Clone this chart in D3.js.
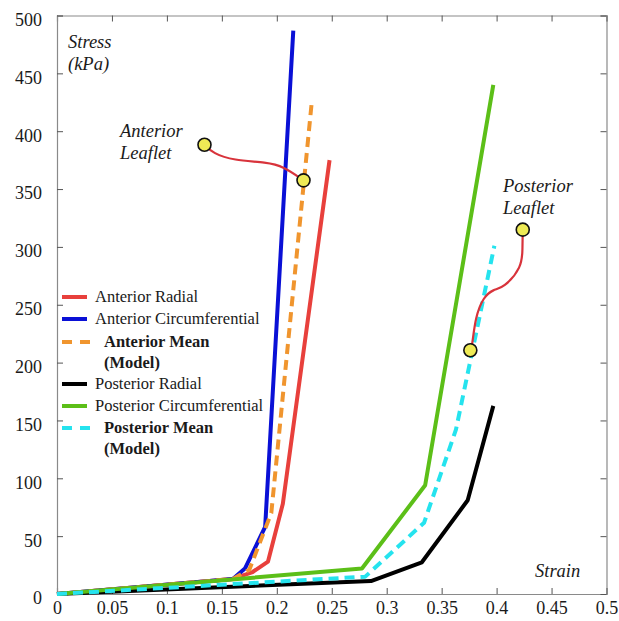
<!DOCTYPE html>
<html>
<head>
<meta charset="utf-8">
<script src="https://cdn.jsdelivr.net/npm/d3@7"></script>
<style>
  body { margin: 0; background: #fff; }
  svg text { font-family: "Liberation Serif", serif; fill: #1a1a1a; }
</style>
</head>
<body>
<div id="chart"></div>
<script>
// data: [strain, stress kPa]
var anteriorRadial = [[0, 0], [0.16, 13], [0.178, 19], [0.192, 28], [0.2055, 78], [0.248, 375]];
var anteriorCirc = [[0, 0], [0.16, 13], [0.171, 22], [0.1894, 58], [0.215, 487]];
var anteriorMean = [[0, 0], [0.16, 13], [0.175, 21], [0.195, 70], [0.232, 427]];
var posteriorRadial = [[0, 0], [0.2857, 11.2], [0.332, 27.4], [0.3737, 81], [0.397, 162.6]];
var posteriorCirc = [[0, 0], [0.2775, 22], [0.335, 94], [0.397, 440]];
var posteriorMean = [[0, 0], [0.2805, 15], [0.334, 61.6], [0.363, 142], [0.398, 301]];

// annotation connectors and their end points
var anteriorNote = [[0.1342, 388.3], [0.1421, 380.8], [0.1603, 374.8], [0.1913, 373.1], [0.2058, 369.6], [0.2243, 357.5]];
var posteriorNote = [[0.4238, 314.9], [0.4235, 298], [0.4232, 282.6], [0.4062, 264.2], [0.3971, 263.4], [0.388, 256.7], [0.3807, 239.5], [0.3777, 213.6], [0.3761, 210.7]];

var xTicks = [0, 0.05, 0.1, 0.15, 0.2, 0.25, 0.3, 0.35, 0.4, 0.45, 0.5];
var yTicks = [0, 50, 100, 150, 200, 250, 300, 350, 400, 450, 500];

var series = [
    { name: "Anterior Radial", data: anteriorRadial, color: "#e8403c", dash: null, bold: false },
    { name: "Anterior Circumferential", data: anteriorCirc, color: "#0a10d6", dash: null, bold: false },
    { name: "Anterior Mean|(Model)", data: anteriorMean, color: "#f0952e", dash: "10,6", bold: true },
    { name: "Posterior Radial", data: posteriorRadial, color: "#000000", dash: null, bold: false },
    { name: "Posterior Circumferential", data: posteriorCirc, color: "#5cbf18", dash: null, bold: false },
    { name: "Posterior Mean|(Model)", data: posteriorMean, color: "#25e3ee", dash: "10,6", bold: true }
];

var svgWidth = 619;
var svgHeight = 621;
var margin = { top: 15.5, right: 12.5, bottom: 27, left: 57 };
var width = svgWidth - margin.left - margin.right;
var height = svgHeight - margin.top - margin.bottom;

var svg = d3.select("#chart")
    .append("svg")
    .attr("width", svgWidth)
    .attr("height", svgHeight);

var chartGroup = svg.append("g")
    .attr("transform", `translate(${margin.left}, ${margin.top})`);

var x = d3.scaleLinear().domain([0, 0.5]).range([0, width]);
var y = d3.scaleLinear().domain([0, 500]).range([height, 0]);

// axes, ticks pointing inwards on all four sides
var fmt = d => d3.format("")(+d.toFixed(2));
function styleAxis(g) {
    g.attr("font-family", null);
    g.select(".domain").attr("stroke", "#8a8a8a").attr("stroke-width", 1.2);
    g.selectAll(".tick line").attr("stroke", "#555");
    g.selectAll(".tick text").attr("font-size", "18px").attr("fill", "#1a1a1a");
}

chartGroup.append("g")
    .attr("transform", `translate(0, ${height})`)
    .call(d3.axisBottom(x).tickValues(xTicks).tickSize(-6).tickPadding(7).tickFormat(fmt))
    .call(styleAxis);

chartGroup.append("g")
    .call(d3.axisTop(x).tickValues(xTicks).tickSize(-6).tickFormat(""))
    .call(styleAxis);

chartGroup.append("g")
    .call(d3.axisLeft(y).tickValues(yTicks).tickSize(-6).tickPadding(15))
    .call(styleAxis)
    .selectAll(".tick text").attr("dy", "0.55em");

chartGroup.append("g")
    .attr("transform", `translate(${width}, 0)`)
    .call(d3.axisRight(y).tickValues(yTicks).tickSize(-6).tickFormat(""))
    .call(styleAxis);

// curves
var line = d3.line().x(d => x(d[0])).y(d => y(d[1]));

chartGroup.selectAll(".curve")
    .data(series)
    .enter()
    .append("path")
    .attr("class", "curve")
    .attr("d", d => line(d.data))
    .attr("fill", "none")
    .attr("stroke", d => d.color)
    .attr("stroke-width", 4)
    .attr("stroke-linejoin", "round")
    .attr("stroke-dasharray", d => d.dash);

// leaflet annotations
var noteLine = d3.line().curve(d3.curveBasis).x(d => x(d[0])).y(d => y(d[1]));
[anteriorNote, posteriorNote].forEach(function (pts) {
    chartGroup.append("path")
        .attr("d", noteLine(pts))
        .attr("fill", "none")
        .attr("stroke", "#d8333b")
        .attr("stroke-width", 2.2);
    chartGroup.selectAll(null)
        .data([pts[0], pts[pts.length - 1]])
        .enter()
        .append("circle")
        .attr("cx", d => x(d[0]))
        .attr("cy", d => y(d[1]))
        .attr("r", 6.5)
        .attr("fill", "#eeea55")
        .attr("stroke", "#111")
        .attr("stroke-width", 1.6);
});

// italic labels
var italics = [
    { t: "Stress", x: 68, y: 48 },
    { t: "(kPa)", x: 68, y: 70 },
    { t: "Anterior", x: 120, y: 137 },
    { t: "Leaflet", x: 120, y: 159 },
    { t: "Posterior", x: 503, y: 192 },
    { t: "Leaflet", x: 503, y: 214 },
    { t: "Strain", x: 535, y: 577 }
];
svg.selectAll(".note")
    .data(italics)
    .enter()
    .append("text")
    .attr("class", "note")
    .attr("x", d => d.x)
    .attr("y", d => d.y)
    .attr("font-size", "18.5px")
    .attr("font-style", "italic")
    .text(d => d.t);

// legend
var legendY = [297, 319, 342, 384, 406, 428];
var legend = svg.append("g");
series.forEach(function (s, i) {
    var ly = legendY[i];
    legend.append("line")
        .attr("x1", 62).attr("x2", s.dash ? 90 : 87)
        .attr("y1", ly).attr("y2", ly)
        .attr("stroke", s.color)
        .attr("stroke-width", 4)
        .attr("stroke-dasharray", s.dash ? "10,8" : null);
    var parts = s.name.split("|");
    parts.forEach(function (p, j) {
        legend.append("text")
            .attr("x", s.bold ? 104 : 95)
            .attr("y", ly + j * 20.5)
            .attr("dy", "0.33em")
            .attr("font-size", "16.5px")
            .attr("font-weight", s.bold ? "bold" : "normal")
            .text(p);
    });
});
</script>
</body>
</html>
